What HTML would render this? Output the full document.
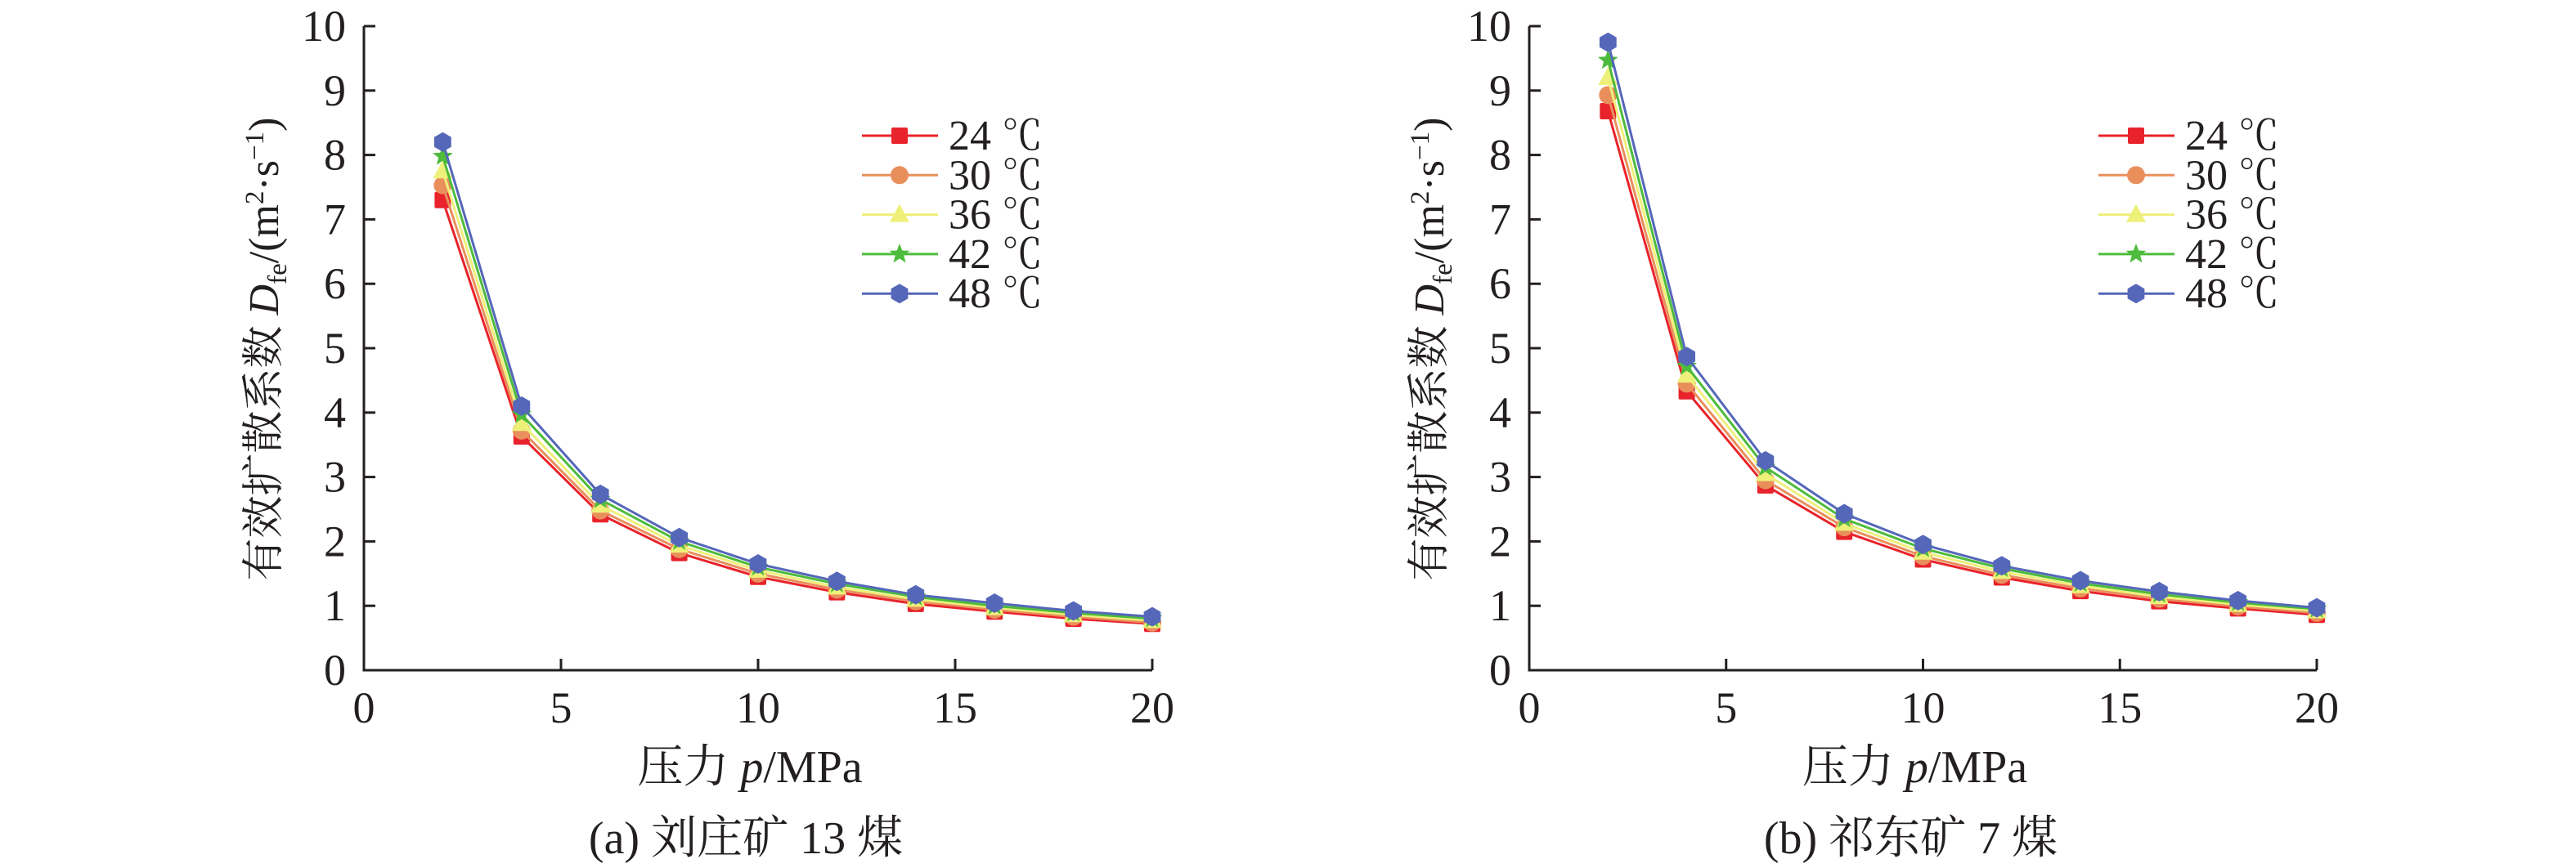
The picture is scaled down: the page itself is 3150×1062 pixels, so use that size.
<!DOCTYPE html>
<html><head><meta charset="utf-8">
<style>
html,body{margin:0;padding:0;background:#fff;}
svg{display:block;}
text{font-family:"Liberation Serif","Noto Serif CJK SC",serif;fill:#231f20;}
</style></head>
<body>
<svg id="fig" width="3150" height="1062" viewBox="0 0 3150 1062" xmlns="http://www.w3.org/2000/svg"></svg>
<script>
const pressures = [2,4,6,8,10,12,14,16,18,20];
const seriesNames = ["24","30","36","42","48"];
const xTicks = [0,5,10,15,20];
const yTicks = [0,1,2,3,4,5,6,7,8,9,10];
const leftT24 = [7.30,3.63,2.42,1.82,1.45,1.21,1.03,0.91,0.80,0.72];
const leftT30 = [7.53,3.72,2.48,1.88,1.50,1.25,1.07,0.94,0.83,0.74];
const leftT36 = [7.75,3.83,2.56,1.94,1.55,1.29,1.10,0.97,0.86,0.77];
const leftT42 = [7.98,3.97,2.65,2.00,1.60,1.34,1.14,1.00,0.89,0.80];
const leftT48 = [8.20,4.10,2.73,2.06,1.65,1.38,1.17,1.04,0.92,0.83];
const rightT24 = [8.68,4.33,2.87,2.15,1.72,1.44,1.23,1.07,0.96,0.86];
const rightT30 = [8.93,4.45,2.95,2.22,1.77,1.48,1.27,1.11,0.99,0.89];
const rightT36 = [9.20,4.58,3.05,2.28,1.83,1.53,1.31,1.14,1.02,0.92];
const rightT42 = [9.47,4.72,3.15,2.35,1.89,1.58,1.35,1.18,1.05,0.95];
const rightT48 = [9.75,4.87,3.25,2.43,1.95,1.62,1.39,1.22,1.08,0.97];

const NS="http://www.w3.org/2000/svg";
const svg=document.getElementById('fig');
const colors=["#e8232b","#e98f5c","#eef07a","#4dbb3b","#5567b9"];
const shapes=["square","circle","triangle","star","hexagon"];
function mk(tag,attrs,parent){const e=document.createElementNS(NS,tag);for(const k in attrs)e.setAttribute(k,attrs[k]);(parent||svg).appendChild(e);return e;}

function marker(shape,cx,cy,color,g){
  let e;
  if(shape==="square"){e=mk('rect',{x:cx-10,y:cy-10,width:20,height:20,rx:2,fill:color},g);}
  else if(shape==="circle"){e=mk('circle',{cx:cx,cy:cy,r:11,fill:color},g);}
  else if(shape==="triangle"){e=mk('polygon',{points:`${cx},${cy-13} ${cx+12},${cy+9} ${cx-12},${cy+9}`,fill:color},g);}
  else if(shape==="star"){let p=[];for(let i=0;i<10;i++){const r=i%2?5.5:13;const a=-Math.PI/2+i*Math.PI/5;p.push((cx+r*Math.cos(a)).toFixed(1)+","+(cy+r*Math.sin(a)).toFixed(1));}e=mk('polygon',{points:p.join(' '),fill:color},g);}
  else {let p=[];for(let i=0;i<6;i++){const a=-Math.PI/2+i*Math.PI/3;p.push((cx+12*Math.cos(a)).toFixed(1)+","+(cy+12*Math.sin(a)).toFixed(1));}e=mk('polygon',{points:p.join(' '),fill:color},g);}
  return e;
}

function chart(id,x0,x1,series,caption,legX){
  const y0=820,y1=32;
  const sx=v=>x0+(v-0)/20*(x1-x0);
  const sy=v=>y0-(v-0)/10*(y0-y1);
  const g=mk('g',{});
  
  
  const ax=mk('path',{d:`M${x0},${y1} V${y0} H${x1}`,fill:'none',stroke:'#231f20','stroke-width':3},g);
  
  
  yTicks.forEach(t=>{
    mk('line',{x1:x0,x2:x0+14,y1:sy(t),y2:sy(t),stroke:'#231f20','stroke-width':3},g);
    const tx=mk('text',{x:x0-22,y:sy(t)+18,'font-size':54,'text-anchor':'end'},g);
    tx.textContent=t;
    
    
  });
  xTicks.forEach(t=>{
    mk('line',{x1:sx(t),x2:sx(t),y1:y0,y2:y0-14,stroke:'#231f20','stroke-width':3},g);
    const tx=mk('text',{x:sx(t),y:884,'font-size':54,'text-anchor':'middle'},g);
    tx.textContent=t;
    
    
  });
  series.forEach((vals,i)=>{
    const sg=mk('g',{},g);
    
    
    mk('polyline',{points:vals.map((v,j)=>sx(pressures[j])+","+sy(v)).join(' '),fill:'none',stroke:colors[i],'stroke-width':3},sg);
    vals.forEach((v,j)=>{
      const m=marker(shapes[i],sx(pressures[j]),sy(v),colors[i],sg);
      
      
    });
  });
  const lg=mk('g',{},g);
  
  
  seriesNames.forEach((n,i)=>{
    const ly=166+i*48.3;
    const le=mk('g',{},lg);
    
    
    mk('line',{x1:legX,x2:legX+93,y1:ly,y2:ly,stroke:colors[i],'stroke-width':3},le);
    marker(shapes[i],legX+46,ly,colors[i],le);
    const t=mk('text',{x:legX+106,y:ly+17,'font-size':52},le);
    t.innerHTML=n+' <tspan font-family="Noto Serif CJK SC, serif" font-size="50">℃</tspan>';
  });
  const cx=(x0+x1)/2;
  const xt=mk('text',{x:cx-10,y:957,'font-size':56,'text-anchor':'middle'},g);
  xt.innerHTML='压力 <tspan font-style="italic">p</tspan>/MPa';
  
  
  const yx=x0-105;
  const yt=mk('text',{x:0,y:0,'font-size':52,'text-anchor':'middle',transform:`translate(${yx},427) rotate(-90)`},g);
  yt.innerHTML='有效扩散系数 <tspan font-style="italic">D</tspan><tspan font-size="33" dy="10">fe</tspan><tspan dy="-10">/(m</tspan><tspan font-size="33" dy="-18">2</tspan><tspan dy="18">·s</tspan><tspan font-size="33" dy="-18">−1</tspan><tspan dy="18">)</tspan>';
  
  
  const cp=mk('text',{x:cx-15,y:1044,'font-size':56,'text-anchor':'middle'},g);
  cp.textContent=caption;
  
  
}
chart('chart-left',445,1409,[leftT24,leftT30,leftT36,leftT42,leftT48],'(a) 刘庄矿 13 煤',1054);
chart('chart-right',1870,2833,[rightT24,rightT30,rightT36,rightT42,rightT48],'(b) 祁东矿 7 煤',2566);
</script>
</body></html>
